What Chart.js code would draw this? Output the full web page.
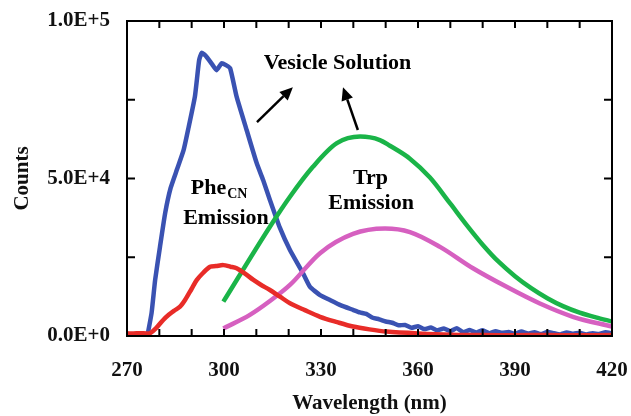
<!DOCTYPE html>
<html>
<head>
<meta charset="utf-8">
<script src="https://cdn.jsdelivr.net/npm/chart.js@4"></script>
<style>
  html, body { margin: 0; padding: 0; background: #fff; }
  #wrap { width: 631px; height: 416px; }
</style>
</head>
<body>
<div id="wrap"><canvas id="chart" width="631" height="416"></canvas></div>
<script>
// wavelength (nm) / counts
var blueX = [276.3, 277.6, 278.7, 280.2, 281.8, 283.5, 285.5, 287.5, 289.0, 291.0, 292.3, 293.1, 294.4, 296.3, 297.7, 299.3, 300.6, 301.9, 303.9, 307.0, 310.1, 312.1, 314.2, 317.3, 320.4, 324.4, 326.6, 329.7, 332.8, 336.0, 339.9,
  342, 344, 346, 348, 350, 352, 354, 356, 358, 360, 362, 364, 366, 368, 370, 372, 374, 376, 378, 380, 382, 384, 386, 388, 390, 392, 394, 396, 398, 400, 402, 404, 406, 408, 410, 412, 414, 416, 418, 420];
var blueY = [0, 7300, 17800, 28300, 39000, 47000, 53000, 59000, 66000, 76000, 87500, 89900, 88900, 86300, 84400, 86600, 86000, 85000, 76000, 65400, 54900, 49500, 43200, 34300, 27300, 20000, 15600, 13000, 11400, 9800, 8300,
  7500, 7000, 5800, 5300, 4600, 4200, 3400, 3500, 2600, 3100, 2200, 2700, 1800, 2400, 1500, 2500, 1200, 1900, 1100, 1800, 900, 1500, 1000, 1300, 700, 1400, 800, 1200, 600, 1300, 900, 500, 1100, 700, 1000, 500, 900, 600, 1200, 800];

var redX = [270, 272, 274, 276, 277.1, 279, 281.2, 283, 284.5, 286.4, 288, 290, 291.6, 293.5, 295.7, 297.5, 299.8, 302, 303.9, 306.5, 309.1, 311.5, 314.2, 317.3, 320.4, 325, 329.7, 335, 339.9, 345, 350.3, 360, 370, 380, 390, 400, 410, 420];
var redY = [850, 800, 900, 800, 850, 2500, 5100, 6800, 8000, 9300, 11500, 15000, 17800, 20000, 22000, 22200, 22500, 22000, 21500, 19800, 17800, 16200, 14600, 12500, 10400, 8200, 6100, 4400, 3000, 2100, 1400, 800, 400, 300, 250, 300, 200, 300];

var greenX = [299.8, 314.2, 320.4, 327.5, 334.9, 342.1, 348.2, 351.3, 357.5, 363.7, 370, 375, 380, 385, 390, 395, 400, 405, 410, 415, 420];
var greenY = [10900, 34700, 44200, 53700, 61200, 63300, 62200, 60400, 56300, 50300, 42000, 35300, 29000, 23500, 19000, 15200, 12000, 9400, 7400, 5900, 4600];

var pinkX = [299.8, 308.0, 314.2, 320.4, 329.7, 339.9, 349.8, 357.5, 366.8, 377.0, 387.4, 397.7, 407.9, 420];
var pinkY = [2400, 6700, 11100, 16200, 26300, 32400, 34100, 33000, 28300, 21500, 15600, 10300, 6100, 3000];

var xTickLabels = [270, 300, 330, 360, 390, 420];
var yTickLabels = { 0: '0.0E+0', 50000: '5.0E+4', 100000: '1.0E+5' };

// text notes and arrows, in data units
var notes = [
  { text: 'Vesicle Solution', x: 335.1, y: 86700 },
  { text: 'Phe', sub: 'CN', x: 298.5, y: 47000 },
  { text: 'Emission', x: 300.6, y: 37500 },
  { text: 'Trp', x: 345.3, y: 50200 },
  { text: 'Emission', x: 345.5, y: 42200 }
];
var arrows = [
  { x0: 310.2, y0: 67900, x1: 321.3, y1: 79000 },
  { x0: 341.4, y0: 65400, x1: 336.8, y1: 79000 }
];

function toPoints(xs, ys) {
    return xs.map(function (x, i) { return { x: x, y: ys[i] }; });
}

var serif = "'Liberation Serif', 'Times New Roman', serif";

function noEdgePadding(s) {
    s.paddingLeft = 0;
    s.paddingRight = 0;
    s.paddingTop = 0;
    s.paddingBottom = 0;
}

var framePlugin = {
    id: 'frame',
    afterDatasetsDraw: function (chart) {
        var ctx = chart.ctx;
        var a = chart.chartArea;
        var xs = chart.scales.x, ys = chart.scales.y;
        ctx.save();
        ctx.strokeStyle = '#000';
        ctx.lineWidth = 2;
        ctx.strokeRect(a.left, a.top, a.right - a.left, a.bottom - a.top);
        ctx.beginPath();
        for (var v = 280; v < 420; v += 10) {
            var px = xs.getPixelForValue(v);
            ctx.moveTo(px, a.bottom); ctx.lineTo(px, a.bottom - 7);
            ctx.moveTo(px, a.top); ctx.lineTo(px, a.top + 7);
        }
        for (var c = 25000; c < 100000; c += 25000) {
            var py = ys.getPixelForValue(c);
            ctx.moveTo(a.left, py); ctx.lineTo(a.left + 8, py);
            ctx.moveTo(a.right, py); ctx.lineTo(a.right - 8, py);
        }
        ctx.stroke();

        // arrows
        ctx.lineWidth = 2.5;
        ctx.fillStyle = '#000';
        arrows.forEach(function (ar) {
            var x0 = xs.getPixelForValue(ar.x0), y0 = ys.getPixelForValue(ar.y0);
            var x1 = xs.getPixelForValue(ar.x1), y1 = ys.getPixelForValue(ar.y1);
            var ang = Math.atan2(y1 - y0, x1 - x0);
            var hl = 13, hw = 6;
            var bx = x1 - hl * Math.cos(ang), by = y1 - hl * Math.sin(ang);
            ctx.beginPath();
            ctx.moveTo(x0, y0); ctx.lineTo(bx, by);
            ctx.stroke();
            ctx.beginPath();
            ctx.moveTo(x1, y1);
            ctx.lineTo(bx + hw * Math.sin(ang), by - hw * Math.cos(ang));
            ctx.lineTo(bx - hw * Math.sin(ang), by + hw * Math.cos(ang));
            ctx.closePath();
            ctx.fill();
        });

        // notes
        ctx.textBaseline = 'middle';
        ctx.textAlign = 'left';
        notes.forEach(function (n) {
            var px = xs.getPixelForValue(n.x), py = ys.getPixelForValue(n.y);
            ctx.font = 'bold 22px ' + serif;
            var w = ctx.measureText(n.text).width;
            var sw = 0;
            if (n.sub) {
                ctx.font = 'bold 14px ' + serif;
                sw = ctx.measureText(n.sub).width + 1;
            }
            var left = px - (w + sw) / 2;
            ctx.font = 'bold 22px ' + serif;
            ctx.fillText(n.text, left, py);
            if (n.sub) {
                ctx.font = 'bold 14px ' + serif;
                ctx.fillText(n.sub, left + w + 1, py + 6);
            }
        });
        ctx.restore();
    }
};

var ctx = document.getElementById('chart').getContext('2d');
new Chart(ctx, {
    type: 'line',
    data: {
        datasets: [
            { data: toPoints(redX, redY), borderColor: 'rgb(232, 44, 40)', borderWidth: 4.5, pointRadius: 0, tension: 0.3, fill: false },
            { data: toPoints(pinkX, pinkY), borderColor: 'rgb(214, 96, 192)', borderWidth: 4.5, pointRadius: 0, cubicInterpolationMode: 'monotone', fill: false },
            { data: toPoints(greenX, greenY), borderColor: 'rgb(26, 180, 72)', borderWidth: 4.5, pointRadius: 0, cubicInterpolationMode: 'monotone', fill: false },
            { data: toPoints(blueX, blueY), borderColor: 'rgb(58, 82, 178)', borderWidth: 4.5, pointRadius: 0, tension: 0.15, fill: false }
        ]
    },
    options: {
        responsive: false,
        animation: false,
        layout: { padding: { top: 21, right: 19, left: 0, bottom: 0 } },
        plugins: { legend: { display: false }, tooltip: { enabled: false } },
        scales: {
            x: {
                type: 'linear',
                min: 270, max: 420,
                afterFit: function (s) { s.height = 80; noEdgePadding(s); },
                grid: { display: false, drawTicks: false },
                border: { display: false },
                ticks: {
                    stepSize: 10,
                    autoSkip: false,
                    maxRotation: 0,
                    padding: 22,
                    color: '#111',
                    font: { family: serif, size: 21, weight: 'bold' },
                    callback: function (v) { return xTickLabels.indexOf(v) >= 0 ? String(v) : ''; }
                },
                title: {
                    display: true,
                    text: 'Wavelength (nm)',
                    color: '#111',
                    padding: { top: 0, bottom: 0 },
                    font: { family: serif, size: 21, weight: 'bold' }
                }
            },
            y: {
                type: 'linear',
                min: 0, max: 100000,
                afterFit: function (s) { s.width = 127; noEdgePadding(s); },
                grid: { display: false, drawTicks: false },
                border: { display: false },
                ticks: {
                    stepSize: 25000,
                    autoSkip: false,
                    padding: 17,
                    color: '#111',
                    font: { family: serif, size: 21, weight: 'bold' },
                    callback: function (v) { return yTickLabels[v] !== undefined ? yTickLabels[v] : ''; }
                },
                title: {
                    display: true,
                    text: 'Counts',
                    color: '#111',
                    padding: { top: 10, bottom: 0 },
                    font: { family: serif, size: 21, weight: 'bold' }
                }
            }
        }
    },
    plugins: [framePlugin]
});
</script>
</body>
</html>
